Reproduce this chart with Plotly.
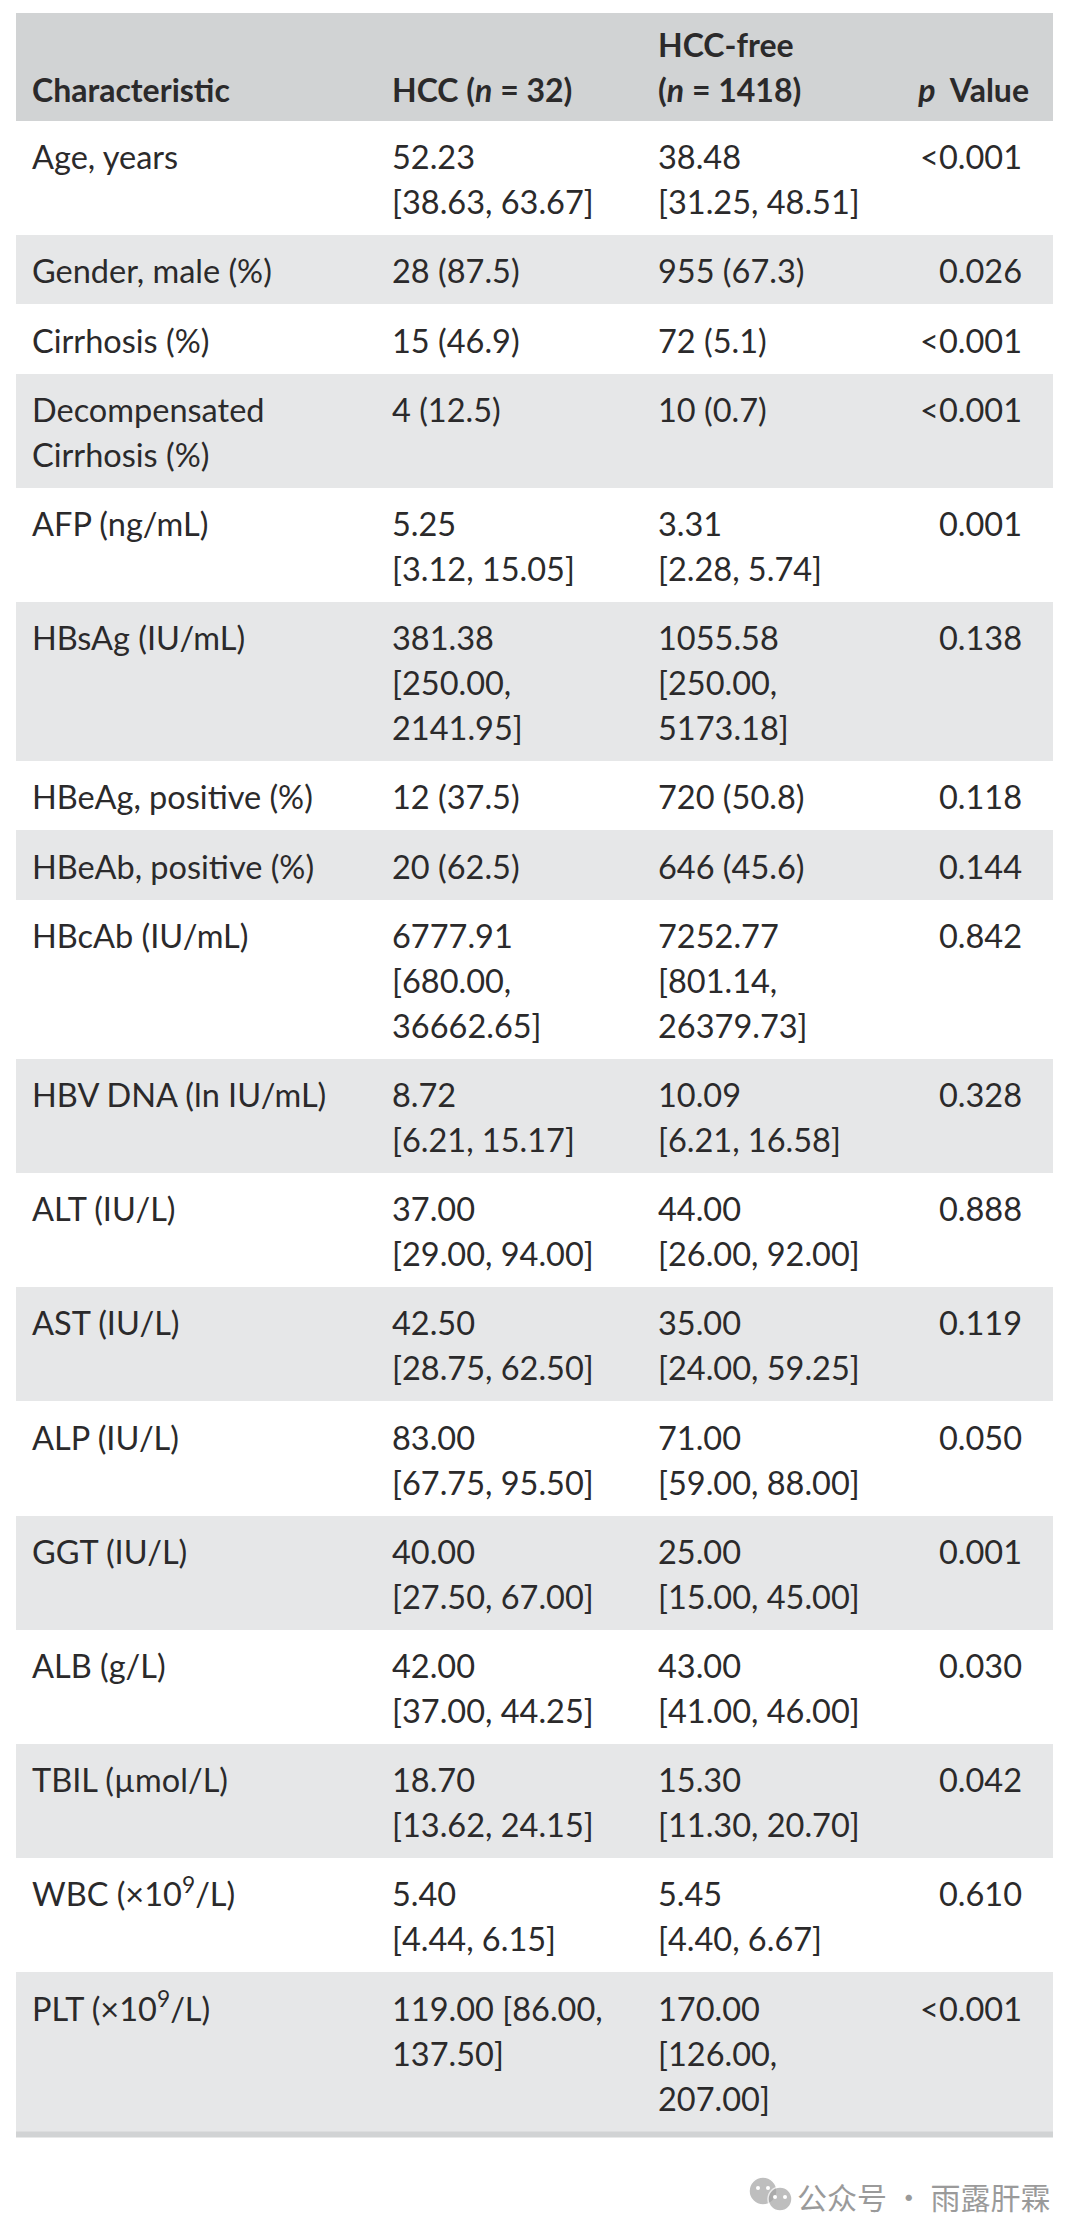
import plotly.graph_objects as go

header = ["<b>Characteristic</b>", "<b>HCC (<i>n</i> = 32)</b>", "<b>HCC-free<br>(<i>n</i> = 1418)</b>", "<b><i>p</i>  Value</b>"]

characteristics = [
    "Age, years", "Gender, male (%)", "Cirrhosis (%)", "Decompensated<br>Cirrhosis (%)",
    "AFP (ng/mL)", "HBsAg (IU/mL)", "HBeAg, positive (%)", "HBeAb, positive (%)",
    "HBcAb (IU/mL)", "HBV DNA (ln IU/mL)", "ALT (IU/L)", "AST (IU/L)", "ALP (IU/L)",
    "GGT (IU/L)", "ALB (g/L)", "TBIL (µmol/L)", "WBC (×10<sup>9</sup>/L)", "PLT (×10<sup>9</sup>/L)",
]
hcc = [
    "52.23<br>[38.63, 63.67]", "28 (87.5)", "15 (46.9)", "4 (12.5)",
    "5.25<br>[3.12, 15.05]", "381.38<br>[250.00,<br>2141.95]", "12 (37.5)", "20 (62.5)",
    "6777.91<br>[680.00,<br>36662.65]", "8.72<br>[6.21, 15.17]", "37.00<br>[29.00, 94.00]",
    "42.50<br>[28.75, 62.50]", "83.00<br>[67.75, 95.50]", "40.00<br>[27.50, 67.00]",
    "42.00<br>[37.00, 44.25]", "18.70<br>[13.62, 24.15]", "5.40<br>[4.44, 6.15]",
    "119.00 [86.00,<br>137.50]",
]
hcc_free = [
    "38.48<br>[31.25, 48.51]", "955 (67.3)", "72 (5.1)", "10 (0.7)",
    "3.31<br>[2.28, 5.74]", "1055.58<br>[250.00,<br>5173.18]", "720 (50.8)", "646 (45.6)",
    "7252.77<br>[801.14,<br>26379.73]", "10.09<br>[6.21, 16.58]", "44.00<br>[26.00, 92.00]",
    "35.00<br>[24.00, 59.25]", "71.00<br>[59.00, 88.00]", "25.00<br>[15.00, 45.00]",
    "43.00<br>[41.00, 46.00]", "15.30<br>[11.30, 20.70]", "5.45<br>[4.40, 6.67]",
    "170.00<br>[126.00,<br>207.00]",
]
p_values = [
    "<0.001", "0.026", "<0.001", "<0.001", "0.001", "0.138", "0.118", "0.144", "0.842",
    "0.328", "0.888", "0.119", "0.050", "0.001", "0.030", "0.042", "0.610", "<0.001",
]

FONT = "Lato"
SIZE = 32.5
INK = "#2b2a2b"
LINE = 45
PAD = 24.2
LEFT, RIGHT = 16, 1053
col_x = [32, 392, 658]
p_x = 1022

fig = go.Figure()


def line_count(row):
    return max(cell.count("<br>") + 1 for cell in row)


def add_text(xs, ys, texts, pos, size=SIZE):
    fig.add_trace(go.Scatter(x=xs, y=ys, text=texts, mode="text", textposition=pos,
                             textfont=dict(family=FONT, size=size, color=INK), hoverinfo="skip"))


# bands
rows = list(zip(characteristics, hcc, hcc_free, p_values))
tops = []
heights = []
y = 121
for row in rows:
    h = PAD + LINE * line_count(row)
    tops.append(y)
    heights.append(h)
    y += h
table_bottom = y

band_y = [13 + 54] + [t + h / 2 for t, h in zip(tops, heights)]
band_h = [108] + heights
band_c = ["#d1d3d4"] + ["#ffffff" if i % 2 == 0 else "#e6e7e8" for i in range(len(rows))]
fig.add_trace(go.Bar(y=band_y, x=[RIGHT - LEFT] * len(band_y), base=LEFT, width=band_h, orientation="h",
                     marker=dict(color=band_c, line=dict(width=0)), hoverinfo="skip"))

# header, bottom aligned at the same baseline
for i, cell in enumerate(header):
    parts = cell.replace("<b>", "").replace("</b>", "").split("<br>")
    n = len(parts)
    for j, part in enumerate(parts):
        yy = 94 - (n - 1 - j) * LINE
        if i == 3:
            add_text([1029], [yy], ["<b>" + part + "</b>"], "middle left", 32)
        else:
            add_text([col_x[i]], [yy], ["<b>" + part + "</b>"], "middle right", 32)

# body
for row, top in zip(rows, tops):
    first = top + 40
    for i, cell in enumerate(row):
        for j, part in enumerate(cell.split("<br>")):
            if i == 3:
                add_text([p_x], [first + j * LINE], [part], "middle left")
            else:
                add_text([col_x[i]], [first + j * LINE], [part], "middle right")

# watermark
fig.add_trace(go.Scatter(x=[763, 780], y=[2191, 2199], mode="markers", hoverinfo="skip",
                         marker=dict(color="#a3a3a3", size=[28, 24], line=dict(color="#ffffff", width=1.5))))
fig.add_trace(go.Scatter(x=[758, 768, 775, 785], y=[2188, 2188, 2197, 2197], mode="markers", hoverinfo="skip",
                         marker=dict(color="#ffffff", size=4)))
fig.add_annotation(x=795, y=2196, xanchor="left", yanchor="middle", showarrow=False,
                   text="公众号 · 雨露肝霖",
                   font=dict(family="Noto Sans CJK SC", size=30, color="#9a9a9a"))

fig.add_shape(type="rect", x0=LEFT, x1=RIGHT, y0=table_bottom, y1=table_bottom + 6,
              fillcolor="#d1d3d4", line_width=0)

fig.update_layout(width=1080, height=2239, margin=dict(l=0, r=0, t=0, b=0), showlegend=False,
                  paper_bgcolor="#ffffff", plot_bgcolor="#ffffff", bargap=0)
fig.update_xaxes(range=[0, 1080], visible=False, fixedrange=True)
fig.update_yaxes(range=[2239, 0], visible=False, fixedrange=True)

fig.write_html("out.html", config={"displayModeBar": False},
               post_script="document.body.style.margin='0';document.body.style.overflow='hidden';")
